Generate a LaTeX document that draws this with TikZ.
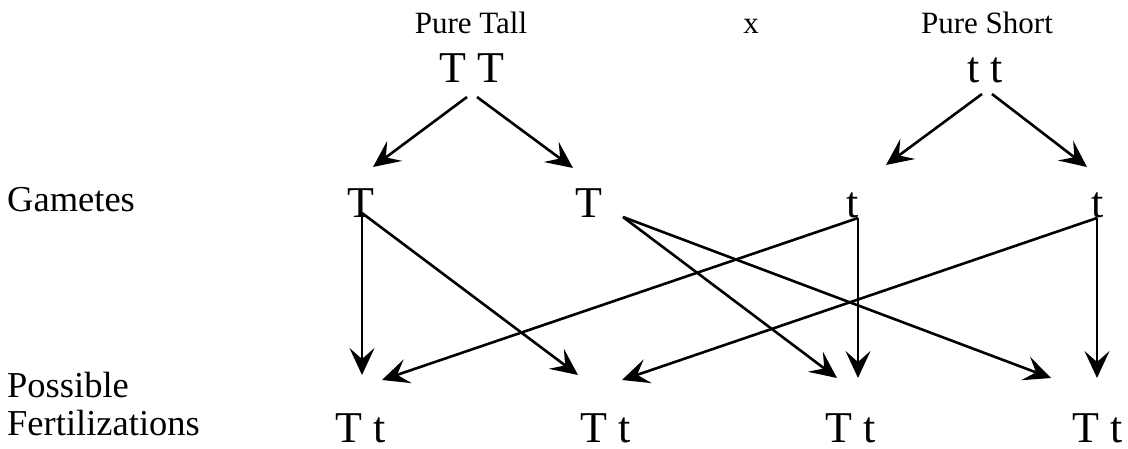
\documentclass[tikz,border=0pt]{standalone}
\usepackage{fontspec}
\setmainfont{Liberation Serif}
\usetikzlibrary{arrows.meta}

\begin{document}
\begin{tikzpicture}[x=1pt,y=-1pt,>={Stealth[length=27pt,width=25pt,inset=11pt]},
  lbl/.style={inner sep=0pt,anchor=base,font=\fontsize{31}{36}\selectfont},
  gen/.style={inner sep=0pt,anchor=base,font=\fontsize{44}{50}\selectfont},
  side/.style={inner sep=0pt,anchor=base west,font=\fontsize{36.5}{40}\selectfont},
  arr/.style={->,line width=2.6pt}]
  \useasboundingbox (0,0) rectangle (1128,448);
  % parents
  \node[lbl] (tall) at (471,33) {Pure Tall};
  \node[lbl] (cross) at (751,33) {x};
  \node[lbl] (short) at (987,33) {Pure Short};
  \node[gen] (pTT) at (472,82) {T T};
  \node[gen] (ptt) at (985,82) {t t};
  % gametes
  \node[side] (gam) at (7,211) {Gametes};
  \node[gen] (gT1) at (361,217) {T};
  \node[gen] (gT2) at (589,217) {T};
  \node[gen] (gt1) at (853,217) {t};
  \node[gen] (gt2) at (1098,217) {t};
  % offspring
  \node[side] (poss) at (7,397) {Possible};
  \node[side] (fert) at (7,435) {Fertilizations};
  \node[gen] (fz1) at (361,442) {T t};
  \node[gen] (fz2) at (606,442) {T t};
  \node[gen] (fz3) at (851,442) {T t};
  \node[gen] (fz4) at (1098,442) {T t};
  % parents to gametes
  \draw[arr] ([xshift=-5pt,yshift=-15pt]pTT.base) -- ([xshift=12pt,yshift=50pt]gT1.base);
  \draw[arr] ([xshift=5pt,yshift=-15pt]pTT.base) -- ([xshift=-16pt,yshift=49pt]gT2.base);
  \draw[arr] ([xshift=-3pt,yshift=-12pt]ptt.base) -- ([xshift=33pt,yshift=52pt]gt1.base);
  \draw[arr] ([xshift=7pt,yshift=-12pt]ptt.base) -- ([xshift=-11pt,yshift=50pt]gt2.base);
  % gametes to fertilizations
  \draw[arr] ([xshift=1pt,yshift=4pt]gT1.base) -- ([xshift=1pt,yshift=67pt]fz1.base);
  \draw[arr] ([xshift=1pt,yshift=4pt]gT1.base) -- ([xshift=-28pt,yshift=67pt]fz2.base);
  \draw[arr] ([xshift=34pt]gT2.base) -- ([xshift=-14pt,yshift=64pt]fz3.base);
  \draw[arr] ([xshift=34pt]gT2.base) -- ([xshift=-47pt,yshift=64pt]fz4.base);
  \draw[arr] ([xshift=5pt,yshift=-1pt]gt1.base) -- ([xshift=7pt,yshift=64pt]fz3.base);
  \draw[arr] ([xshift=5pt,yshift=-1pt]gt1.base) -- ([xshift=21pt,yshift=62pt]fz1.base);
  \draw[arr] ([xshift=-1pt,yshift=-1pt]gt2.base) -- ([xshift=-1pt,yshift=64pt]fz4.base);
  \draw[arr] ([xshift=-1pt,yshift=-1pt]gt2.base) -- ([xshift=16pt,yshift=62pt]fz2.base);
\end{tikzpicture}
\end{document}
